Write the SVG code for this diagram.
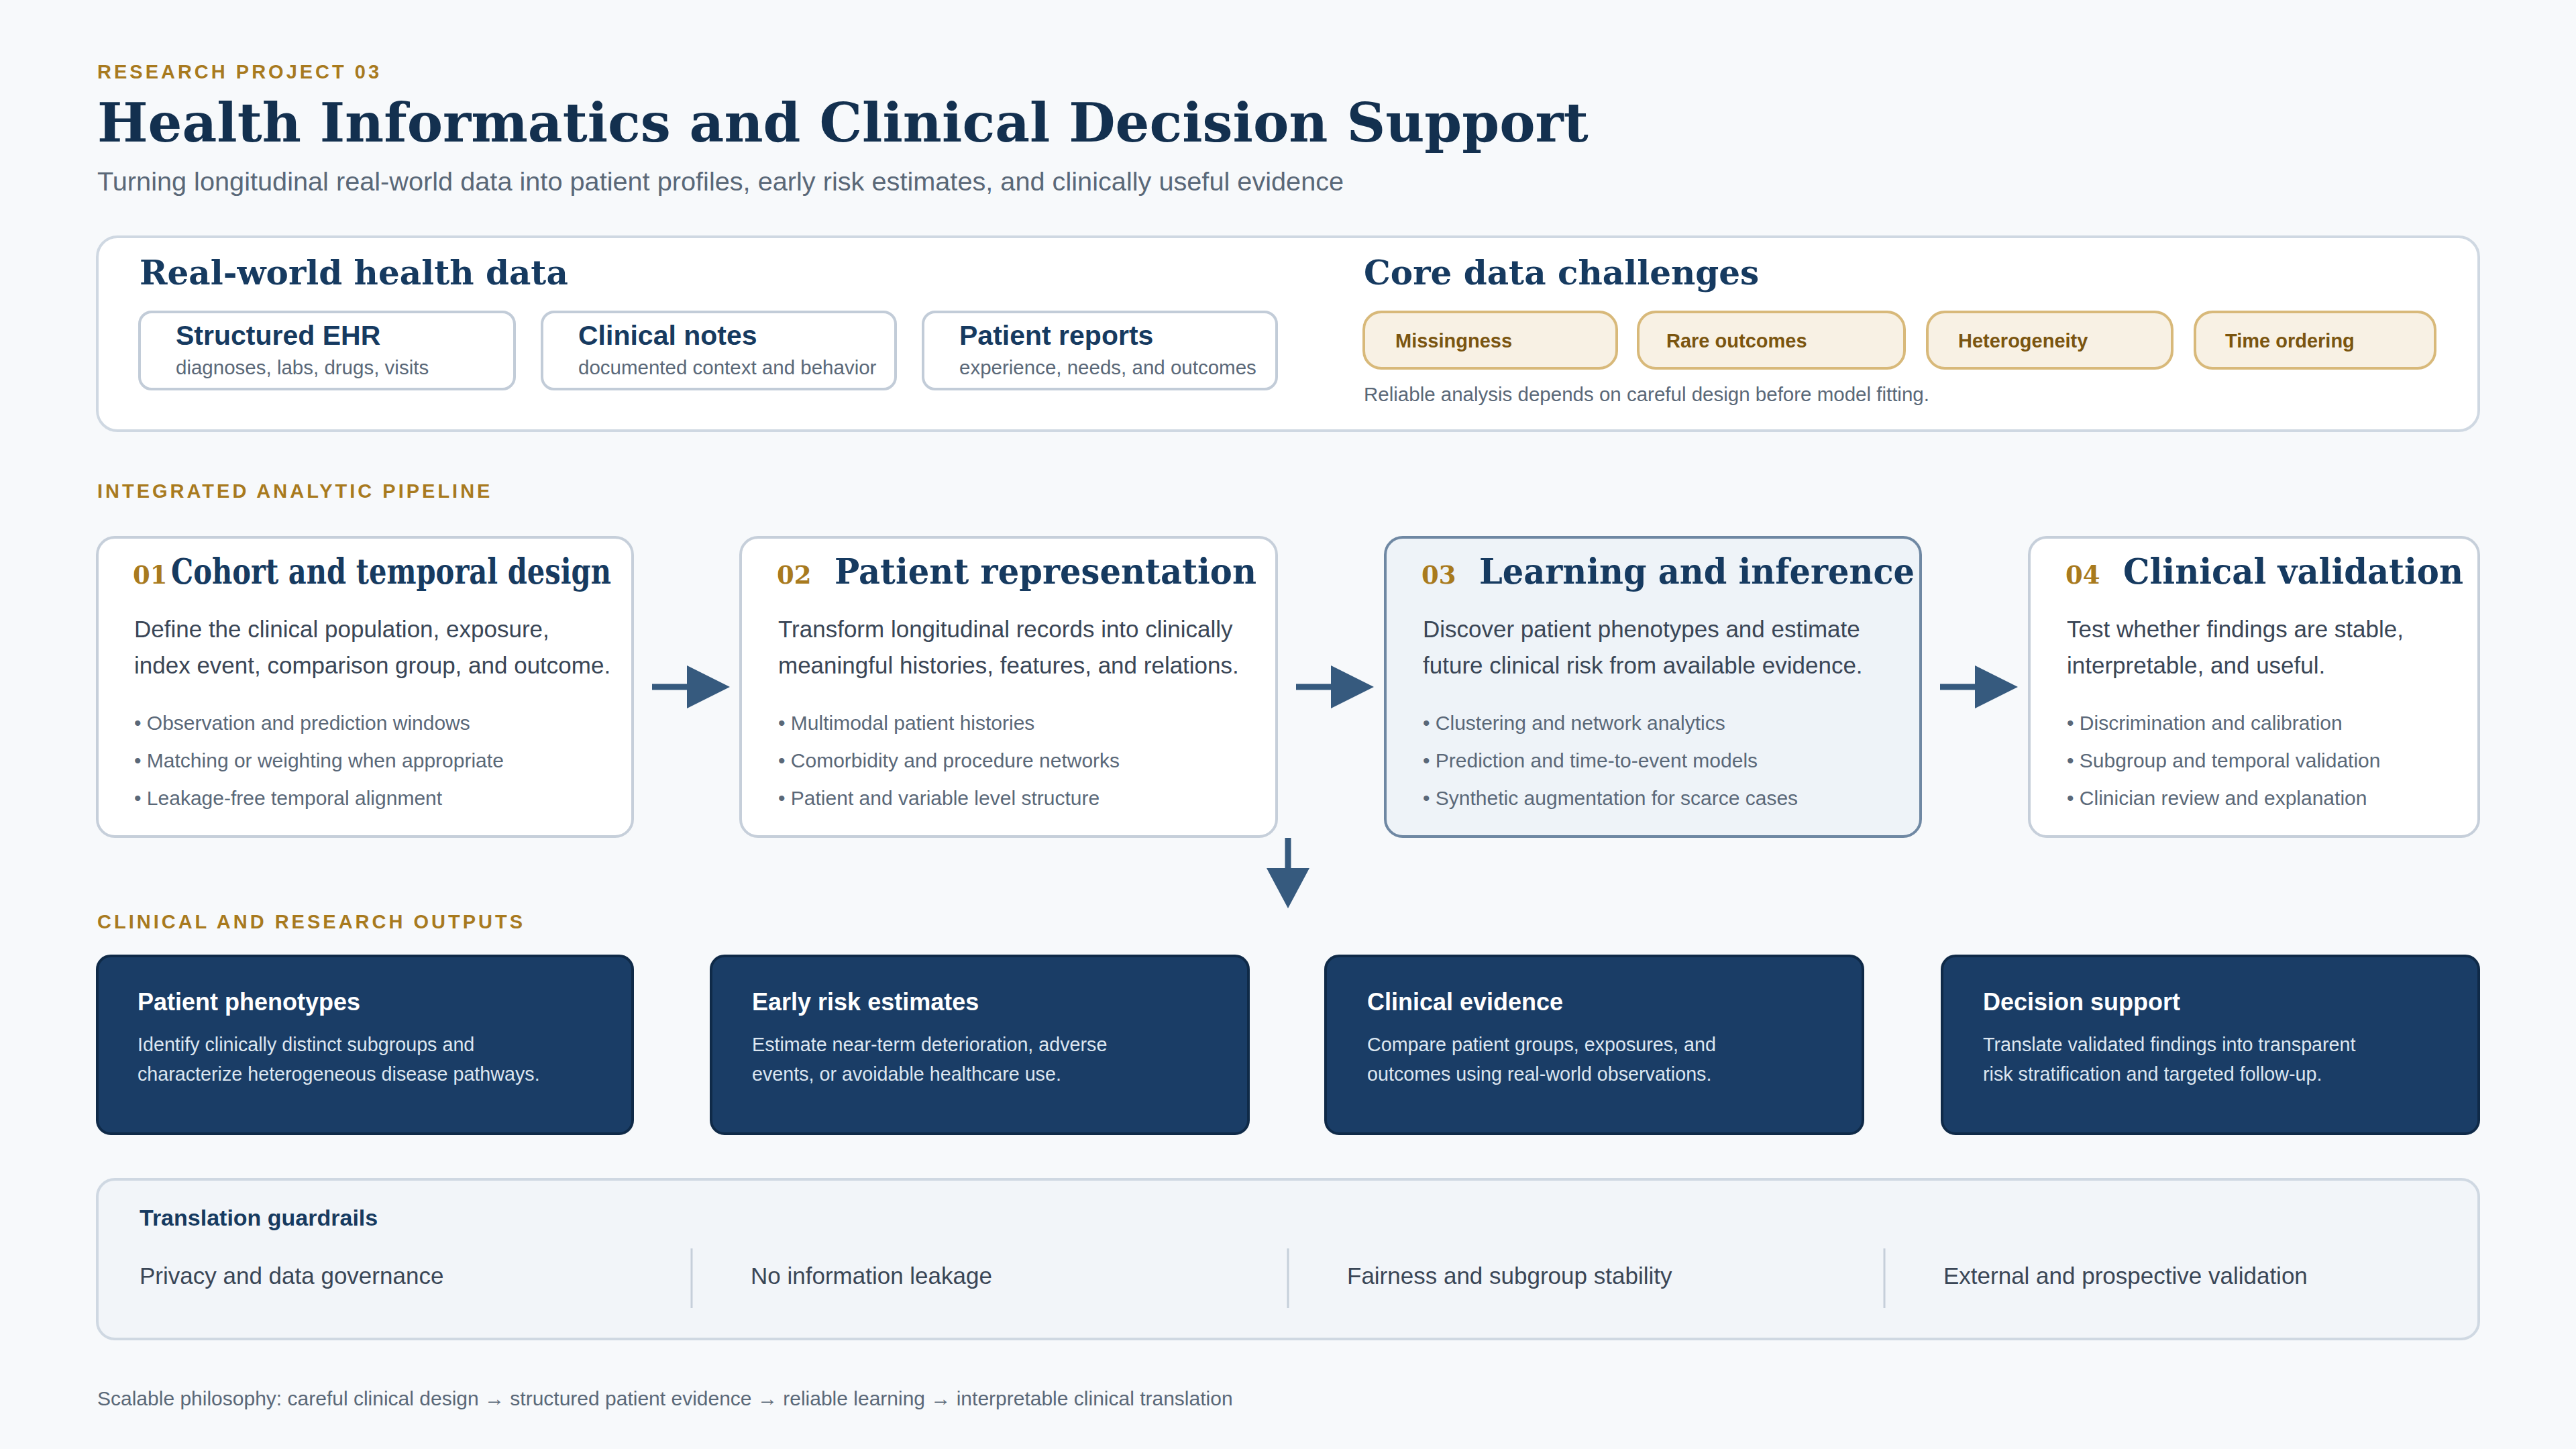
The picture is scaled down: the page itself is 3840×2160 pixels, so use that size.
<svg xmlns="http://www.w3.org/2000/svg" width="3840" height="2160" viewBox="0 0 3840 2160">
<defs>
<style>
.sans{font-family:"Liberation Sans",Arial,sans-serif}
.serif{font-family:"DejaVu Serif","Liberation Serif",serif;font-weight:bold}
.eyebrow{font-family:"Liberation Sans",Arial,sans-serif;font-weight:bold;font-size:29px;fill:#a87a1e;letter-spacing:4px}
.panel{fill:#ffffff;stroke:#cfd8e2;stroke-width:4}
.src{fill:#ffffff;stroke:#c2ccd8;stroke-width:4}
.srcT{font-family:"Liberation Sans",Arial,sans-serif;font-weight:bold;font-size:41px;fill:#163a60}
.srcS{font-family:"Liberation Sans",Arial,sans-serif;font-size:29.5px;fill:#5a6878}
.chip{fill:#f8f1e4;stroke:#d8b97a;stroke-width:4}
.chipT{font-family:"Liberation Sans",Arial,sans-serif;font-weight:bold;font-size:29px;fill:#7a5510}
.step{fill:#ffffff;stroke:#c6cfda;stroke-width:4}
.stepHi{fill:#eef3f8;stroke:#6f88a3;stroke-width:4}
.num{font-family:"DejaVu Serif",serif;font-weight:bold;font-size:37px;fill:#a87a1e}
.stepT{font-family:"DejaVu Serif",serif;font-weight:bold;font-size:52px;fill:#163a60}
.desc{font-family:"Liberation Sans",Arial,sans-serif;font-size:35px;fill:#3a4656}
.bul{font-family:"Liberation Sans",Arial,sans-serif;font-size:30px;fill:#5a6878}
.out{fill:#1a3d66;stroke:#0f2a48;stroke-width:4}
.outT{font-family:"Liberation Sans",Arial,sans-serif;font-weight:bold;font-size:36px;fill:#ffffff}
.outS{font-family:"Liberation Sans",Arial,sans-serif;font-size:28.7px;fill:#dce6f0}
.guard{font-family:"Liberation Sans",Arial,sans-serif;font-size:35px;fill:#3a4656}
.arr{stroke:#365a7e;stroke-width:9;fill:none}
.head{fill:#365a7e}
</style>
</defs>
<rect width="3840" height="2160" fill="#f7f9fb"/>
<g id="header">
<text x="145" y="117" class="eyebrow">RESEARCH PROJECT 03</text>
<text x="145" y="211" class="serif" font-size="80" fill="#13304f">Health Informatics and Clinical Decision Support</text>
<text x="145" y="284" class="sans" font-size="39.7" fill="#5a6878">Turning longitudinal real-world data into patient profiles, early risk estimates, and clinically useful evidence</text>
</g>
<g id="data-panel">
<rect x="145" y="353" width="3550" height="289" rx="30" class="panel"/>
<text x="208" y="424" class="serif" font-size="50" fill="#163a60">Real-world health data</text>
<text x="2033" y="424" class="serif" font-size="50" fill="#163a60">Core data challenges</text>
<text x="2033" y="598" class="sans" font-size="29.5" fill="#5a6878">Reliable analysis depends on careful design before model fitting.</text>
</g>
<g id="src-ehr"><rect x="208" y="465" width="559" height="115" rx="18" class="src"/><text x="262" y="514" class="srcT">Structured EHR</text><text x="262" y="558" class="srcS">diagnoses, labs, drugs, visits</text></g>
<g id="src-notes"><rect x="808" y="465" width="527" height="115" rx="18" class="src"/><text x="862" y="514" class="srcT">Clinical notes</text><text x="862" y="558" class="srcS">documented context and behavior</text></g>
<g id="src-reports"><rect x="1376" y="465" width="527" height="115" rx="18" class="src"/><text x="1430" y="514" class="srcT">Patient reports</text><text x="1430" y="558" class="srcS">experience, needs, and outcomes</text></g>
<g id="chip-missing"><rect x="2033" y="465" width="377" height="84" rx="26" class="chip"/><text x="2080" y="518" class="chipT">Missingness</text></g>
<g id="chip-rare"><rect x="2442" y="465" width="397" height="84" rx="26" class="chip"/><text x="2484" y="518" class="chipT">Rare outcomes</text></g>
<g id="chip-het"><rect x="2873" y="465" width="365" height="84" rx="26" class="chip"/><text x="2919" y="518" class="chipT">Heterogeneity</text></g>
<g id="chip-time"><rect x="3272" y="465" width="358" height="84" rx="26" class="chip"/><text x="3317" y="518" class="chipT">Time ordering</text></g>
<text x="145" y="742" class="eyebrow">INTEGRATED ANALYTIC PIPELINE</text>
<g id="step1"><rect x="145" y="801" width="798" height="446" rx="26" class="step"/>
<text x="198" y="870" class="num">01</text><text x="255" y="870" class="stepT" font-size="46" textLength="656" lengthAdjust="spacingAndGlyphs">Cohort and temporal design</text>
<text x="200" y="950" class="desc">Define the clinical population, exposure,</text><text x="200" y="1004" class="desc">index event, comparison group, and outcome.</text>
<text x="200" y="1088" class="bul">• Observation and prediction windows</text><text x="200" y="1144" class="bul">• Matching or weighting when appropriate</text><text x="200" y="1200" class="bul">• Leakage-free temporal alignment</text></g>
<g id="step2"><rect x="1104" y="801" width="799" height="446" rx="26" class="step"/>
<text x="1158" y="870" class="num">02</text><text x="1244" y="870" class="stepT" textLength="629" lengthAdjust="spacingAndGlyphs">Patient representation</text>
<text x="1160" y="950" class="desc">Transform longitudinal records into clinically</text><text x="1160" y="1004" class="desc">meaningful histories, features, and relations.</text>
<text x="1160" y="1088" class="bul">• Multimodal patient histories</text><text x="1160" y="1144" class="bul">• Comorbidity and procedure networks</text><text x="1160" y="1200" class="bul">• Patient and variable level structure</text></g>
<g id="step3"><rect x="2065" y="801" width="798" height="446" rx="26" class="stepHi"/>
<text x="2119" y="870" class="num">03</text><text x="2205" y="870" class="stepT" textLength="649" lengthAdjust="spacingAndGlyphs">Learning and inference</text>
<text x="2121" y="950" class="desc">Discover patient phenotypes and estimate</text><text x="2121" y="1004" class="desc">future clinical risk from available evidence.</text>
<text x="2121" y="1088" class="bul">• Clustering and network analytics</text><text x="2121" y="1144" class="bul">• Prediction and time-to-event models</text><text x="2121" y="1200" class="bul">• Synthetic augmentation for scarce cases</text></g>
<g id="step4"><rect x="3025" y="801" width="670" height="446" rx="26" class="step"/>
<text x="3079" y="870" class="num">04</text><text x="3165" y="870" class="stepT" textLength="507" lengthAdjust="spacingAndGlyphs">Clinical validation</text>
<text x="3081" y="950" class="desc">Test whether findings are stable,</text><text x="3081" y="1004" class="desc">interpretable, and useful.</text>
<text x="3081" y="1088" class="bul">• Discrimination and calibration</text><text x="3081" y="1144" class="bul">• Subgroup and temporal validation</text><text x="3081" y="1200" class="bul">• Clinician review and explanation</text></g>
<g id="connectors">
<line x1="972" y1="1024" x2="1030" y2="1024" class="arr"/><polygon points="1024,992 1088,1024 1024,1056" class="head"/>
<line x1="1932" y1="1024" x2="1990" y2="1024" class="arr"/><polygon points="1984,992 2048,1024 1984,1056" class="head"/>
<line x1="2892" y1="1024" x2="2950" y2="1024" class="arr"/><polygon points="2944,992 3008,1024 2944,1056" class="head"/>
<line x1="1920" y1="1249" x2="1920" y2="1300" class="arr"/><polygon points="1888,1294 1952,1294 1920,1354" class="head"/>
</g>
<text x="145" y="1384" class="eyebrow">CLINICAL AND RESEARCH OUTPUTS</text>
<g id="out1"><rect x="145" y="1425" width="798" height="265" rx="20" class="out"/><text x="205" y="1506" class="outT">Patient phenotypes</text><text x="205" y="1567" class="outS">Identify clinically distinct subgroups and</text><text x="205" y="1611" class="outS">characterize heterogeneous disease pathways.</text></g>
<g id="out2"><rect x="1060" y="1425" width="801" height="265" rx="20" class="out"/><text x="1121" y="1506" class="outT">Early risk estimates</text><text x="1121" y="1567" class="outS">Estimate near-term deterioration, adverse</text><text x="1121" y="1611" class="outS">events, or avoidable healthcare use.</text></g>
<g id="out3"><rect x="1976" y="1425" width="801" height="265" rx="20" class="out"/><text x="2038" y="1506" class="outT">Clinical evidence</text><text x="2038" y="1567" class="outS">Compare patient groups, exposures, and</text><text x="2038" y="1611" class="outS">outcomes using real-world observations.</text></g>
<g id="out4"><rect x="2895" y="1425" width="800" height="265" rx="20" class="out"/><text x="2956" y="1506" class="outT">Decision support</text><text x="2956" y="1567" class="outS">Translate validated findings into transparent</text><text x="2956" y="1611" class="outS">risk stratification and targeted follow-up.</text></g>
<g id="guardrails">
<rect x="145" y="1758" width="3550" height="238" rx="26" fill="#f2f5f9" stroke="#cfd8e2" stroke-width="4"/>
<text x="208" y="1827" class="sans" font-weight="bold" font-size="34" fill="#163a60">Translation guardrails</text>
<text x="208" y="1914" class="guard">Privacy and data governance</text>
<text x="1119" y="1914" class="guard">No information leakage</text>
<text x="2008" y="1914" class="guard">Fairness and subgroup stability</text>
<text x="2897" y="1914" class="guard">External and prospective validation</text>
<line x1="1031" y1="1861" x2="1031" y2="1950" stroke="#c6cfda" stroke-width="3"/>
<line x1="1920" y1="1861" x2="1920" y2="1950" stroke="#c6cfda" stroke-width="3"/>
<line x1="2809" y1="1861" x2="2809" y2="1950" stroke="#c6cfda" stroke-width="3"/>
</g>
<text x="145" y="2095" class="sans" font-size="30" fill="#5a6878">Scalable philosophy: careful clinical design → structured patient evidence → reliable learning → interpretable clinical translation</text>
</svg>
